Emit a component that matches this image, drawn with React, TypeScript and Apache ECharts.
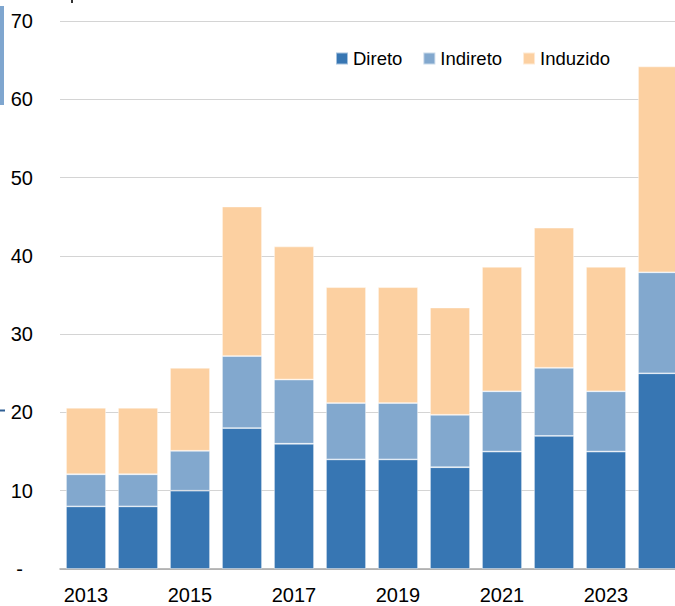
import React, { useEffect, useRef } from "react";
import * as echarts from "echarts";

const years = ["2013", "2014", "2015", "2016", "2017", "2018", "2019", "2020", "2021", "2022", "2023", "2024"];
const direto = [8, 8, 10, 18, 16, 14, 14, 13, 15, 17, 15, 25];
const indireto = [4.1, 4.1, 5.1, 9.2, 8.2, 7.2, 7.2, 6.7, 7.7, 8.7, 7.7, 12.9];
const induzido = [8.5, 8.5, 10.6, 19.1, 17.0, 14.8, 14.8, 13.7, 15.9, 17.9, 15.9, 26.3];
const seriesNames = ["Direto", "Indireto", "Induzido"];
const colors = ["#3776B3", "#82A8CE", "#FCD0A1"];

const FONT = '"Liberation Sans Narrow", "Arial Narrow", "Liberation Sans", Arial, sans-serif';

export default function App() {
  const ref = useRef<HTMLDivElement>(null);
  useEffect(() => {
    if (!ref.current) return;
    const chart = echarts.init(ref.current, null, { renderer: "svg" });
    const data = [direto, indireto, induzido];
    chart.setOption({
      animation: false,
      backgroundColor: "#ffffff",
      textStyle: { fontFamily: FONT },
      grid: { left: 60, top: 21, width: 624, bottom: 37, containLabel: false, outerBoundsMode: "none" },
      legend: {
        data: seriesNames,
        left: 335,
        top: 49,
        padding: 0,
        icon: "rect",
        itemWidth: 12,
        itemHeight: 12,
        itemGap: 20,
        textStyle: { fontFamily: FONT, fontSize: 18.5, color: "#000" },
      },
      xAxis: {
        type: "category",
        data: years,
        axisTick: { show: false },
        axisLine: { lineStyle: { color: "#A6A6A6", width: 1.5 } },
        axisLabel: { interval: 1, fontSize: 20, color: "#000", margin: 16, fontFamily: FONT },
      },
      yAxis: {
        type: "value",
        min: 0,
        max: 70,
        interval: 10,
        axisLine: { show: false },
        axisTick: { show: false },
        splitLine: { lineStyle: { color: "#D4D4D4", width: 1.2 } },
        axisLabel: {
          fontSize: 20,
          color: "#000",
          margin: 27,
          fontFamily: FONT,
          formatter: (v: number) => (v === 0 ? "{d|-}" : String(v)),
          rich: { d: { fontSize: 20, color: "#000", fontFamily: FONT, padding: [0, 10, 0, 0] } },
        },
      },
      series: seriesNames.map((n, i) => ({
        name: n,
        type: "bar",
        stack: "total",
        barWidth: 40,
        data: data[i],
        itemStyle: { color: colors[i], borderColor: "rgba(255,255,255,0.55)", borderWidth: 0.8 },
      })),
      graphic: [
        { type: "rect", shape: { x: 0, y: 6, width: 4, height: 99 }, style: { fill: "#7FA6CF" } },
        { type: "rect", shape: { x: 0, y: 409.5, width: 5, height: 2 }, style: { fill: "#2F5F95" } },
        { type: "rect", shape: { x: 71, y: 0, width: 2, height: 3 }, style: { fill: "#333" } },
      ],
    });
    return () => chart.dispose();
  }, []);
  return (
    <div
      ref={ref}
      style={{ position: "fixed", left: 0, top: 0, width: 675, height: 606, overflow: "hidden" }}
    />
  );
}
